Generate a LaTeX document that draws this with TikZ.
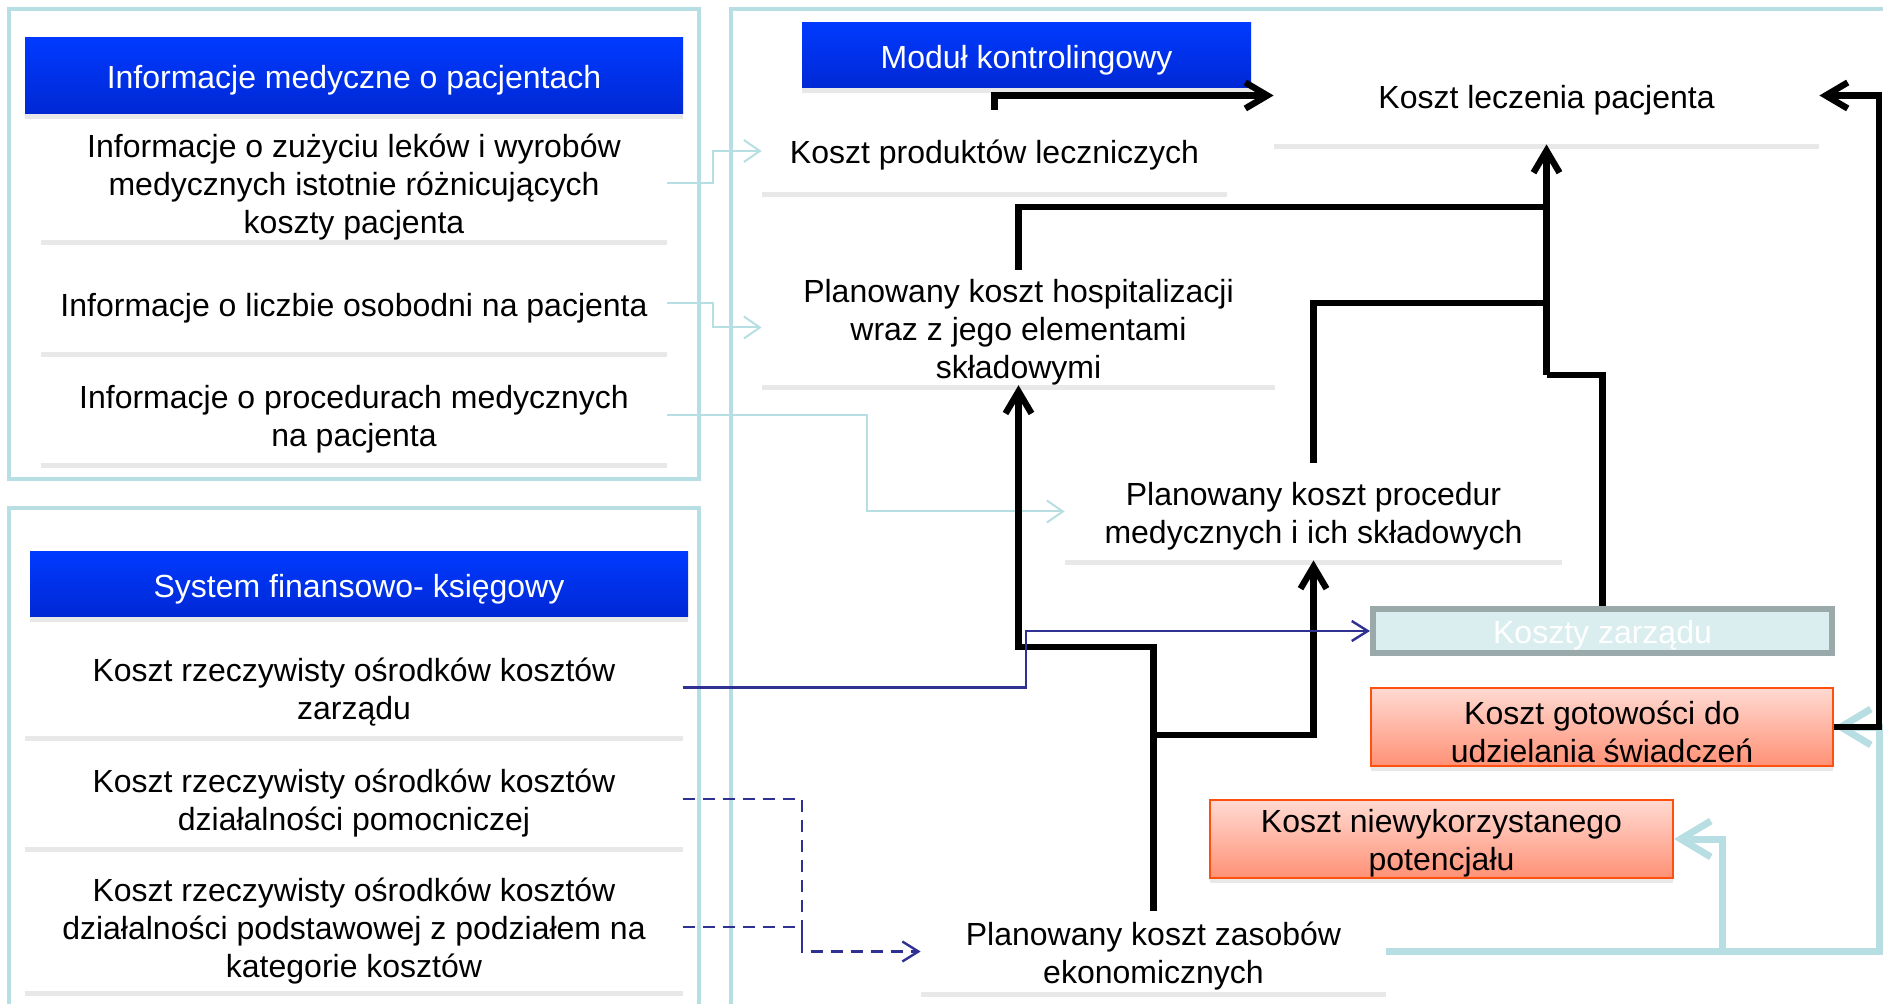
\documentclass[tikz,border=0pt]{standalone}
\usepackage{fontspec}
\setmainfont{Liberation Sans}
\usepackage{tikz}
\usetikzlibrary{arrows.meta}
\usetikzlibrary{shadows}

\definecolor{frameblue}{RGB}{183,222,226}
\definecolor{headtop}{RGB}{0,58,255}
\definecolor{headbot}{RGB}{0,40,212}
\definecolor{redtop}{RGB}{255,218,210}
\definecolor{redbot}{RGB}{255,145,118}
\definecolor{redline}{RGB}{255,80,16}
\definecolor{mgmtfill}{RGB}{218,238,240}
\definecolor{mgmtline}{RGB}{154,170,170}
\definecolor{navyline}{RGB}{46,49,146}

\begin{document}
\begin{tikzpicture}[x=0.5pt,y=-0.5pt,
font=\fontsize{16}{19}\selectfont,
frame/.style={draw=frameblue,line width=2pt},
textbox/.style={align=center,inner sep=0pt,
execute at begin node={\vbox\bgroup\vskip4.4pt\hbox\bgroup},
execute at end node={\egroup\egroup}},
whitebox/.style={textbox,fill=white,
drop shadow={shadow xshift=0pt,shadow yshift=-2.5pt,opacity=0.18}},
bluehead/.style={whitebox,top color=headtop,bottom color=headbot,text=white},
redbox/.style={whitebox,draw=redline,line width=1pt,top color=redtop,bottom color=redbot},
greybox/.style={textbox,fill=mgmtfill,draw=mgmtline,line width=3pt,text=white},
blk/.style={line width=3.2pt,>={Straight Barb[length=11pt,width=13pt]}},
thinblue/.style={draw=frameblue,line width=1pt,>={Straight Barb[length=8pt,width=11pt]}},
fatblue/.style={draw=frameblue,line width=3.5pt,>={Straight Barb[length=15pt,width=18pt]}},
navyln/.style={draw=navyline,line width=1.2pt,>={Straight Barb[length=8pt,width=10pt]}}]
\useasboundingbox (0,0) rectangle (1883,1004);

\draw[frame] (9,9) rectangle (699,479);
\draw[frame] (9,508) rectangle (699,1020);
\draw[frame] (731,9) rectangle (1900,1020);

\node (hA) [bluehead,minimum width=329pt,minimum height=38pt] at (354,76) {Informacje medyczne o pacjentach};
\node (i1) [whitebox,minimum width=313pt,minimum height=56pt] at (354,183) {Informacje o zużyciu leków i wyrobów\\medycznych istotnie różnicujących\\koszty pacjenta};
\node (i2) [whitebox,minimum width=313pt,minimum height=48.5pt] at (354,303.5) {Informacje o liczbie osobodni na pacjenta};
\node (i3) [whitebox,minimum width=313pt,minimum height=48pt] at (354,415) {Informacje o procedurach medycznych\\na pacjenta};

\node (hB) [bluehead,minimum width=329pt,minimum height=32.5pt] at (359,584.5) {System finansowo- księgowy};
\node (k1) [whitebox,minimum width=329pt,minimum height=48.5pt] at (354,687.5) {Koszt rzeczywisty ośrodków kosztów\\zarządu};
\node (k2) [whitebox,minimum width=329pt,minimum height=48pt] at (354,799) {Koszt rzeczywisty ośrodków kosztów\\działalności pomocniczej};
\node (k3) [whitebox,minimum width=329pt,minimum height=64pt] at (354,927) {Koszt rzeczywisty ośrodków kosztów\\działalności podstawowej z podziałem na\\kategorie kosztów};

\node (hC) [bluehead,minimum width=224.5pt,minimum height=32.5pt] at (1026.5,55.5) {Moduł kontrolingowy};
\node (lecz) [whitebox,minimum width=272.5pt,minimum height=48.5pt] at (1546.5,95.5) {Koszt leczenia pacjenta};
\node (prod) [whitebox,minimum width=232.5pt,minimum height=41pt] at (994.5,151) {Koszt produktów leczniczych};
\node (hosp) [whitebox,minimum width=256.5pt,minimum height=56.5pt] at (1018.5,327.5) {Planowany koszt hospitalizacji\\wraz z jego elementami\\składowymi};
\node (proc) [whitebox,minimum width=248.5pt,minimum height=48.5pt] at (1313.5,511.5) {Planowany koszt procedur\\medycznych i ich składowych};
\node (zarz) [greybox,minimum width=229.5pt,minimum height=22pt] at (1602.5,631) {Koszty zarządu};
\node (gotow) [redbox,minimum width=231pt,minimum height=39pt] at (1602,727) {Koszt gotowości do\\udzielania świadczeń};
\node (niew) [redbox,minimum width=231.5pt,minimum height=39pt] at (1441.5,839) {Koszt niewykorzystanego\\potencjału};
\node (zas) [whitebox,minimum width=232.5pt,minimum height=40.5pt] at (1153.5,951.5) {Planowany koszt zasobów\\ekonomicznych};

\draw[thinblue,->] (i1.east) -- ++(46,0) |- (prod.west);
\draw[thinblue,->] (i2.east) -- ++(46,0) |- (hosp.west);
\draw[thinblue,->] (i3.east) -- ++(200,0) |- (proc.west);

\coordinate (b1) at (1722,951.5);
\coordinate (b2) at (1879,951.5);
\draw[fatblue,->] (zas.east) -- (b1) |- (niew.east);
\draw[fatblue,->] (b1) -- (b2) |- (gotow.east);

\coordinate (j1) at (1546.5,207);
\coordinate (j2) at (1546.5,303);
\coordinate (j3) at (1546.5,375);
\coordinate (z1) at (1153.5,647);
\coordinate (z2) at (1153.5,735);
\coordinate (r1) at (1879,727);
\draw[blk,->] (prod.north) |- (lecz.west);
\draw[blk] (hosp.north) |- (j1);
\draw[blk] (proc.north) |- (j2);
\draw[blk] (zarz.north) |- (j3);
\draw[blk,->] (j3) -- (lecz.south);
\draw[blk,->] (zas.north) -- (z1) -| (hosp.south);
\draw[blk,->] (z2) -| (proc.south);
\draw[blk,->] (gotow.east) -- (r1) |- (lecz.east);

\coordinate (n1) at (1026,631);
\coordinate (d1) at (802,951.5);
\draw[navyln,->] (k1.east) -| (n1) -- (zarz.west);
\draw[navyln,dash pattern=on 6pt off 4pt,->] (k2.east) -| (d1) -- (zas.west);
\draw[navyln,dash pattern=on 6pt off 4pt] (k3.east) -| (d1);
\end{tikzpicture}
\end{document}
